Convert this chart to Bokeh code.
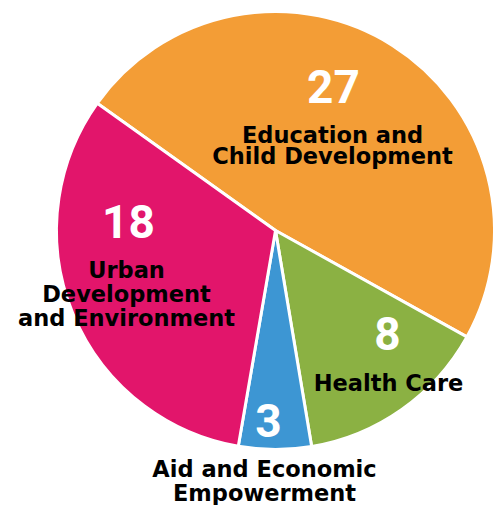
import math
from bokeh.plotting import figure
from bokeh.models import Range1d, ColumnDataSource
from bokeh.embed import file_html
from bokeh.resources import INLINE
from bokeh.core.properties import value

# ---- data ----
categories = ["Education and Child Development", "Health Care",
              "Aid and Economic Empowerment", "Urban Development and Environment"]
values = [27, 8, 3, 18]
colors = ["#F39D36", "#8BB143", "#3D96D3", "#E2156B"]
label_lines = [["Education and", "Child Development"], ["Health Care"],
               ["Aid and Economic", "Empowerment"], ["Urban", "Development", "and Environment"]]

# ---- layout (not data) ----
W, H = 502, 505
cx, cy, R = 275, 275, 219
start_deg = 144.5
# label anchors relative to pie centre: (number x, number baseline y, text x, first text baseline y)
anchors = [(58, 127, 57, 87), (112, -120, 113, -161), (-7, -207, -11, -247), (-147, -8, -149, -48)]
line_gap = [21, 0, 24, 24]
num_shift, txt_shift = 17, 9   # renderer baseline compensation

p = figure(width=W, height=H, output_backend="svg", toolbar_location=None,
           x_range=Range1d(0, W), y_range=Range1d(0, H),
           min_border=0, outline_line_color=None)
p.axis.visible = False
p.grid.visible = False
p.background_fill_color = "white"
p.border_fill_color = "white"

total = sum(values)
starts, ends = [], []
a = start_deg
for v in values:
    span = v / total * 360.0
    starts.append(math.radians(a - span))
    ends.append(math.radians(a))
    a -= span

src = ColumnDataSource(dict(x=[cx] * len(values), y=[cy] * len(values),
                            s=starts, e=ends, c=colors, cat=categories))
p.wedge(x="x", y="y", radius=R, start_angle="s", end_angle="e", direction="anticlock",
        fill_color="c", line_color="white", line_width=3, source=src)

nx, ny, nt = [], [], []
tx, ty, tt = [], [], []
for i, v in enumerate(values):
    ax, ay, bx, by = anchors[i]
    nx.append(cx + ax); ny.append(cy + ay + num_shift); nt.append(str(v))
    for j, line in enumerate(label_lines[i]):
        tx.append(cx + bx); ty.append(cy + by + txt_shift - j * line_gap[i]); tt.append(line)

p.text(x=nx, y=ny, text=nt, text_align="center", text_baseline="alphabetic",
       text_color="white", text_font=value("Roboto"), text_font_style="bold",
       text_font_size="46px")
p.text(x=tx, y=ty, text=tt, text_align="center", text_baseline="alphabetic",
       text_color="black", text_font=value("DejaVu Sans"), text_font_style="bold",
       text_font_size="22.5px")

open("out.html", "w").write(file_html(p, INLINE))
